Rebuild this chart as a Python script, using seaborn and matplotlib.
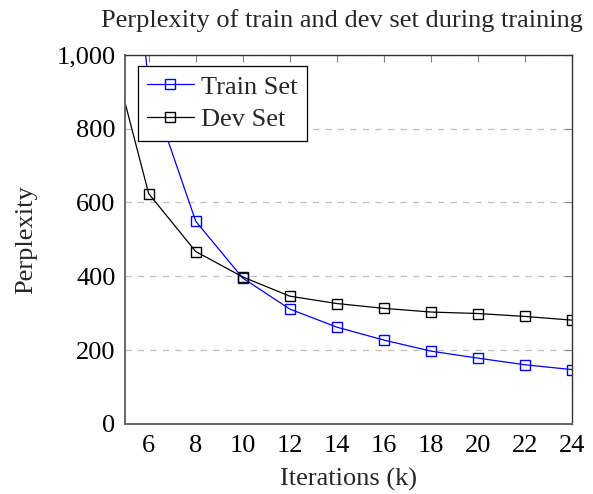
import pandas as pd
import seaborn as sns
import matplotlib.pyplot as plt

# values
iterations = [4, 6, 8, 10, 12, 14, 16, 18, 20, 22, 24]
train_ppl = [2150, 920, 549, 395, 311, 262, 227, 197, 178, 160, 147]
dev_ppl = [1115, 624, 467, 398, 346, 326, 313, 303, 299, 291, 281]
x_ticks = [6, 8, 10, 12, 14, 16, 18, 20, 22, 24]
y_ticks = [0, 200, 400, 600, 800, 1000]
y_labels = ['0', '200', '400', '600', '800', '1,000']

df = pd.DataFrame({
    'Iterations': iterations * 2,
    'Perplexity': train_ppl + dev_ppl,
    'Set': ['Train Set'] * len(iterations) + ['Dev Set'] * len(iterations),
})

sns.set_style('white')
plt.rcParams['font.family'] = ['Liberation Serif', 'DejaVu Serif']
fs = 19

fig, ax = plt.subplots(figsize=(5.93, 4.94), dpi=100)
fig.subplots_adjust(left=0.211, right=0.965, top=0.889, bottom=0.142)

sns.lineplot(data=df, x='Iterations', y='Perplexity', hue='Set',
             palette={'Train Set': 'blue', 'Dev Set': 'black'},
             marker='s', markersize=7.5, markerfacecolor='none',
             markeredgewidth=1.0, linewidth=0.9, ax=ax)

# the marker edges come out in the hue colour
for line, c in zip(ax.lines, ['blue', 'black']):
    line.set_markeredgecolor(c)

ax.set_xlim(5, 24)
ax.set_ylim(0, 1000)
ax.set_xticks(x_ticks)
ax.set_yticks(y_ticks)
ax.set_yticklabels(y_labels)
ax.tick_params(direction='in', length=5, width=0.8, colors='0.5',
               labelcolor='black', labelsize=fs, top=True, right=True)
ax.tick_params(axis='y', pad=7)
ax.tick_params(axis='x', pad=8)
for s in ax.spines.values():
    s.set_color('0.2')
    s.set_linewidth(1.0)
for k in ['left', 'bottom']:
    ax.spines[k].set_color('0.4')
    ax.spines[k].set_linewidth(1.4)
ax.yaxis.grid(True, linestyle=(0, (5, 5)), color='0.75', linewidth=0.9)
ax.set_axisbelow(True)

ax.set_xlabel('Iterations (k)', fontsize=fs, labelpad=8)
ax.set_ylabel('Perplexity', fontsize=fs, labelpad=14)
ax.set_title('Perplexity of train and dev set during training', fontsize=fs,
             pad=20, x=0.485)

leg = ax.legend(loc='upper left', bbox_to_anchor=(0.029, 0.97), borderaxespad=0,
                fontsize=fs, fancybox=False, framealpha=1, edgecolor='black',
                handlelength=1.75, borderpad=0.35, labelspacing=0.35,
                handletextpad=0.3)
leg.get_frame().set_linewidth(0.9)
for h, c in zip(leg.legend_handles, ['blue', 'black']):
    h.set_markeredgecolor(c)
    h.set_markerfacecolor('none')
    h.set_markersize(6.5)

fig.savefig('out.png', dpi=100)
